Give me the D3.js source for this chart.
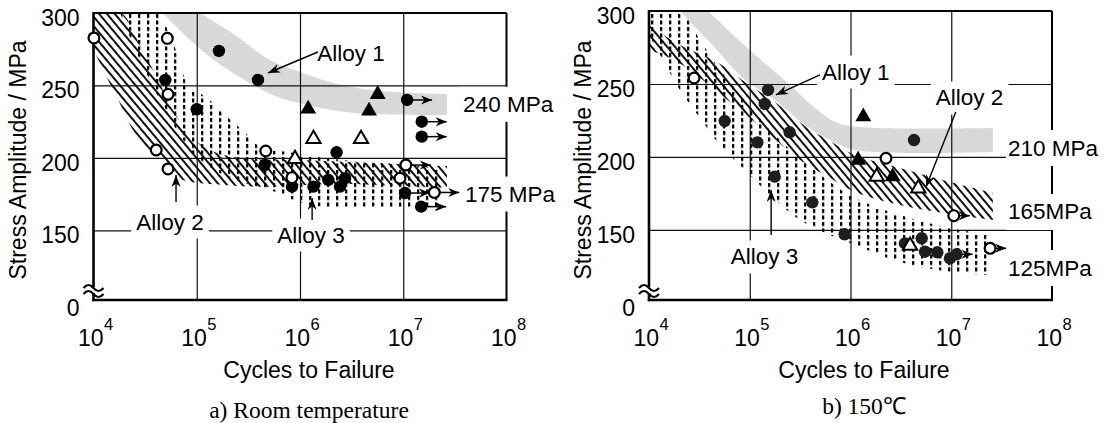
<!DOCTYPE html>
<html><head><meta charset="utf-8">
<script src="https://cdn.jsdelivr.net/npm/d3@7"></script>
<style>body{margin:0;background:#fff}svg{display:block}</style>
</head><body><svg id="c" width="1108" height="423"></svg>
<script>
// ---------- tick data ----------
const decadeTicks = [1e4, 1e5, 1e6, 1e7, 1e8];
const decadeExponents = ["4", "5", "6", "7", "8"];
const gridCycles = [1e5, 1e6, 1e7];
const stressTicks = [150, 200, 250, 300];
const gridStress = [150, 200, 250];
const brokenAxisLabel = "0";

// ---------- a) Room temperature ----------
const rtOpenCircle = [[1.01e4,282.8],[5.19e4,282.5],[5.27e4,243.9],[4.05e4,205.5],[5.27e4,192.4],[4.66e5,204.8],[8.36e5,186.4],[9.3e6,186.0]];
const rtOpenCircleRunout = [[1.06e7,195.1],[2.0e7,176.2]];
const rtFilledCircle = [[4.96e4,253.8],[1.0e5,233.6],[1.64e5,273.8],[3.92e5,253.8],[4.55e5,195.1],[8.36e5,180.2],[1.35e6,180.2],[1.88e6,184.8],[2.44e6,180.2],[2.73e6,186.0],[2.26e6,203.9]];
const rtFilledCircleRunout = [[1.09e7,240],[1.51e7,225.0],[1.51e7,214.7],[1.04e7,175.8],[1.49e7,166.4]];
const rtFilledTriangle = [[1.20e6,233.8],[5.66e6,243.9],[4.66e6,232.4]];
const rtOpenTriangle = [[8.95e5,199.3],[1.35e6,213.1],[3.90e6,213.1]];

const rtAlloy1Upper = [[1.07e5,300],[2.35e5,284.8],[5.12e5,267.6],[1.0e6,259.3],[1.95e6,252.4],[4.76e6,246.9],[2.65e7,244.1]];
const rtAlloy1Lower = [[4.71e4,300],[8.6e4,281.4],[1.61e5,265.5],[3.13e5,252.4],[5.73e5,242.7],[1.07e6,237.2],[2.28e6,232.4],[4.76e6,230.3],[2.65e7,229.6]];
const rtAlloy2Upper = [[1e4,300],[1.85e4,300],[2.82e4,277.9],[4.21e4,253.8],[5.89e4,233.1],[8.6e4,215.8],[1.34e5,205.5],[2.62e5,200.0],[1.0e6,198.6],[2.65e7,194.4]];
const rtAlloy2Lower = [[1e4,274.5],[1.73e4,240.0],[2.70e4,213.8],[4.51e4,198.6],[6.58e4,186.2],[1.88e5,181.3],[4.58e5,180.0],[1.95e6,182.0],[2.65e7,179.3]];
const rtAlloy3Upper = [[4.41e4,300],[5.51e4,284.8],[6.89e4,266.2],[8.23e4,250.0],[1.23e5,242.0],[1.88e5,229.6],[3.35e5,213.8],[4.19e5,206.9],[7.65e5,204.1],[1.75e6,200.0],[2.27e7,193.1]];
const rtAlloy3Lower = [[1.81e4,300],[2.82e4,267.6],[4.41e4,240.0],[6.89e4,215.8],[1.07e5,198.6],[2.10e5,186.2],[5.12e5,177.9],[1.25e6,167.5],[9.3e6,165.5],[2.27e7,164.1]];

const rtAlloyNotes = [
  {text:"Alloy 1", at:[3.12e6,272.4], from:[1.49e6,273.1], to:[4.9e5,258.6]},
  {text:"Alloy 2", at:[5.51e4,155.8], from:[6.3e4,169.6], to:[6.3e4,188.2]},
  {text:"Alloy 3", at:[1.28e6,146.8], from:[1.31e6,157.2], to:[1.31e6,172.4]}
];
const rtLimitLabels = [{text:"240 MPa", at:[3.8e7,237]}, {text:"175 MPa", at:[3.97e7,175.1]}];

// ---------- b) 150 C ----------
const htOpenCircle = [[2.8e4,254.1],[2.25e6,199.1]];
const htOpenCircleRunout = [[1.06e7,159.8],[2.43e7,137.4]];
const htFilledCircle = [[1.52e5,245.9],[1.41e5,236.3],[5.64e4,224.6],[2.49e5,216.9],[1.19e5,210.0],[1.77e5,186.5],[4.18e5,168.9],[8.75e5,147.0],[4.27e6,211.6],[3.47e6,140.8],[5.09e6,144.3],[5.49e6,135.1],[7.27e6,134.7],[9.72e6,130.6]];
const htFilledCircleRunout = [[1.13e7,133.3]];
const htFilledTriangle = [[1.34e6,227.6],[1.19e6,197.9],[2.62e6,186.5]];
const htOpenTriangle = [[1.82e6,186.5],[4.71e6,178.5],[3.90e6,139.2]];

const htAlloy1Upper = [[3.85e4,300],[1.0e5,273.3],[2.51e5,249.3],[4.45e5,233.5],[7.02e5,224.0],[1.24e6,220.5],[2.59e7,219.8]];
const htAlloy1Lower = [[2.03e4,300],[4.73e4,273.3],[8.97e4,252.7],[1.78e5,239.0],[3.53e5,221.9],[6.27e5,211.6],[1.11e6,204.8],[2.59e7,203.4]];
const htAlloy2Upper = [[1e4,290.4],[2.03e4,276.7],[4.73e4,265.1],[8.97e4,251.4],[1.78e5,237.7],[3.53e5,221.2],[6.27e5,210.9],[1.11e6,201.3],[3.10e6,192.4],[9.72e6,182.8],[2.59e7,175.3]];
const htAlloy2Lower = [[1e4,273.3],[1.62e4,267.8],[2.55e4,259.6],[4.52e4,245.9],[8.57e4,230.8],[1.59e5,215.0],[3.16e5,197.9],[6.27e5,185.6],[1.11e6,176.0],[3.10e6,167.1],[9.72e6,160.9],[2.59e7,156.8]];
const htAlloy3Upper = [[1e4,300],[2.03e4,300],[3.21e4,280.1],[5.07e4,259.6],[8.97e4,239.0],[1.59e5,218.5],[3.16e5,199.3],[6.27e5,182.8],[1.11e6,171.9],[3.10e6,160.2],[9.72e6,151.3],[2.43e7,146.5]];
const htAlloy3Lower = [[1e4,283.6],[1.29e4,269.9],[2.03e4,245.9],[3.21e4,226.7],[5.07e4,208.2],[8.97e4,191.1],[1.59e5,173.9],[3.16e5,156.8],[6.27e5,146.5],[1.11e6,139.7],[3.10e6,128.0],[9.72e6,121.2],[2.43e7,119.1]];

const htAlloyNotes = [
  {text:"Alloy 1", at:[1.13e6,258.2], from:[4.98e5,256.2], to:[1.82e5,242.5]},
  {text:"Alloy 2", at:[1.52e7,240.4], from:[1.11e7,230.8], to:[5.61e6,179.4]},
  {text:"Alloy 3", at:[1.40e5,131.5], from:[1.63e5,146.5], to:[1.63e5,177.4]}
];
const htLimitLabels = [{text:"210 MPa", at:[3.66e7,206.1]}, {text:"165MPa", at:[3.66e7,162.3]}, {text:"125MPa", at:[3.66e7,123.9]}];

const xTitle = "Cycles to Failure";
const yTitle = "Stress Amplitude / MPa";
const captions = ["a) Room temperature", "b) 150\u2103"];

// ---------- drawing ----------
const SANS = "'Liberation Sans', Arial, Helvetica, sans-serif";
const SERIF = "'Liberation Serif', 'Times New Roman', serif";
const svg = d3.select("#c");
svg.append("rect").attr("width",1108).attr("height",423).attr("fill","#fff");
const defs = svg.append("defs");
const hp = defs.append("pattern").attr("id","hatch").attr("patternUnits","userSpaceOnUse")
  .attr("width",6).attr("height",6).attr("patternTransform","rotate(-40)");
hp.append("line").attr("x1",1).attr("y1",0).attr("x2",1).attr("y2",6).attr("stroke","#111").attr("stroke-width",2);
const dp = defs.append("pattern").attr("id","dots").attr("patternUnits","userSpaceOnUse")
  .attr("width",9).attr("height",6.5);
dp.append("rect").attr("x",3).attr("y",1).attr("width",2.3).attr("height",4).attr("fill","#000");

function arrowHead(g, tx, ty, angle, len=10, half=3.6){
  g.append("path")
    .attr("d",`M0,0 L${-len},${-half} L${-len*0.7},0 L${-len},${half} Z`)
    .attr("transform",`translate(${tx},${ty}) rotate(${angle})`)
    .attr("fill","#000");
}

function drawPanel(cfg){
  const x = d3.scaleLog().domain([1e4,1e8]).range([cfg.left,cfg.right]);
  const y = d3.scaleLinear().domain([102,300]).range([cfg.bottom,cfg.top]);
  const g = svg.append("g");
  const cid = "clip"+cfg.id;
  defs.append("clipPath").attr("id",cid).append("rect")
    .attr("x",cfg.left).attr("y",cfg.top).attr("width",cfg.right-cfg.left).attr("height",cfg.bottom-cfg.top);

  // bands
  const line = d3.line().x(d=>x(d[0])).y(d=>y(d[1])).curve(d3.curveCatmullRom.alpha(0.5));
  const band = (up,lo)=> line(up) + line(lo.slice().reverse()).replace(/^M/,"L") + "Z";
  const bands = g.append("g").attr("clip-path",`url(#${cid})`);
  bands.append("path").attr("d",band(cfg.a1u,cfg.a1l)).attr("fill","#d8d8d8");
  bands.append("path").attr("d",band(cfg.a2u,cfg.a2l)).attr("fill","url(#hatch)");
  bands.append("path").attr("d",band(cfg.a3u,cfg.a3l)).attr("fill","url(#dots)");

  // grid via axes
  const gx = g.append("g").attr("transform",`translate(0,${cfg.bottom})`)
    .call(d3.axisBottom(x).tickValues(gridCycles).tickSize(-(cfg.bottom-cfg.top)).tickFormat(""));
  const gy = g.append("g").attr("transform",`translate(${cfg.left},0)`)
    .call(d3.axisLeft(y).tickValues(gridStress).tickSize(-(cfg.right-cfg.left)).tickFormat(""));
  [gx,gy].forEach(a=>{ a.select(".domain").remove(); a.selectAll("line").attr("stroke","#111").attr("stroke-width",1.2); });

  // frame
  const fr = g.append("g").attr("stroke","#000").attr("fill","none");
  fr.append("line").attr("x1",cfg.left).attr("x2",cfg.right).attr("y1",cfg.top).attr("y2",cfg.top).attr("stroke-width",2);
  fr.append("line").attr("x1",cfg.right).attr("x2",cfg.right).attr("y1",cfg.top).attr("y2",cfg.bottom).attr("stroke-width",2);
  fr.append("line").attr("x1",cfg.left).attr("x2",cfg.left).attr("y1",cfg.top-1).attr("y2",cfg.bottom+1.2).attr("stroke-width",2.6);
  fr.append("line").attr("x1",cfg.left-1.2).attr("x2",cfg.right+1).attr("y1",cfg.bottom).attr("y2",cfg.bottom).attr("stroke-width",2.6);

  // axis break symbol
  const by = cfg.bottom - 10;
  g.append("rect").attr("x",cfg.left-3).attr("y",by-3).attr("width",6).attr("height",6).attr("fill","#fff");
  [-3,3].forEach(o=>{
    g.append("path").attr("d",`M${cfg.left-10},${by+o+1} q5,-6 10,0 t10,0`)
      .attr("fill","none").attr("stroke","#000").attr("stroke-width",2);
  });

  // markers
  const R = 6.2;
  const pts = g.append("g");
  const runout = (arr)=> arr.forEach(d=>{
    const px=x(d[0]), py=y(d[1]);
    pts.append("line").attr("x1",px).attr("x2",px+cfg.runLen).attr("y1",py).attr("y2",py).attr("stroke","#000").attr("stroke-width",1.5);
    arrowHead(pts, px+cfg.runLen, py, 0, 11, 4.5);
  });
  runout(cfg.fcr); runout(cfg.ocr);
  pts.selectAll(null).data(cfg.fc.concat(cfg.fcr)).join("circle")
    .attr("cx",d=>x(d[0])).attr("cy",d=>y(d[1])).attr("r",R).attr("fill",cfg.dotFill);
  pts.selectAll(null).data(cfg.oc.concat(cfg.ocr)).join("circle")
    .attr("cx",d=>x(d[0])).attr("cy",d=>y(d[1])).attr("r",R-0.8).attr("fill","#fff").attr("stroke","#000").attr("stroke-width",2.2);
  const tri = d3.symbol().type(d3.symbolTriangle).size(110);
  pts.selectAll(null).data(cfg.ft).join("path").attr("d",tri)
    .attr("transform",d=>`translate(${x(d[0])},${y(d[1])})`).attr("fill","#000");
  const tri2 = d3.symbol().type(d3.symbolTriangle).size(88);
  pts.selectAll(null).data(cfg.ot).join("path").attr("d",tri2)
    .attr("transform",d=>`translate(${x(d[0])},${y(d[1])})`).attr("fill","#fff").attr("stroke","#000").attr("stroke-width",2);

  // text with white background
  function boxedText(tx, ty, str, anchor, padX, padY, fixedH){
    const t = g.append("text").attr("x",tx).attr("y",ty).attr("text-anchor",anchor)
      .attr("dominant-baseline","central").attr("font-family",SANS).attr("font-size",22.5).attr("fill","#000").text(str);
    const b = t.node().getBBox();
    const h = fixedH || (b.height + 2*padY);
    g.insert("rect", () => t.node()).attr("x",b.x-padX).attr("y",ty-h/2).attr("width",b.width+2*padX).attr("height",h).attr("fill","#fff");
  }
  cfg.notes.forEach(n=>{
    boxedText(x(n.at[0]), y(n.at[1]), n.text, "middle", 5, 4);
    const x1=x(n.from[0]), y1=y(n.from[1]), x2=x(n.to[0]), y2=y(n.to[1]);
    g.append("line").attr("x1",x1).attr("y1",y1).attr("x2",x2).attr("y2",y2).attr("stroke","#000").attr("stroke-width",1.4);
    arrowHead(g, x2, y2, Math.atan2(y2-y1,x2-x1)*180/Math.PI, 12, 4.5);
  });
  cfg.limits.forEach(n=>{
    boxedText(x(n.at[0]), y(n.at[1]), n.text, "start", 2, 0, cfg.limitH);
  });

  // tick labels
  const tl = g.append("g").attr("font-family",SANS).attr("fill","#000");
  tl.selectAll(null).data(stressTicks).join("text")
    .attr("x",cfg.left-14).attr("y",d=>y(d)+5).attr("text-anchor","end").attr("dominant-baseline","central")
    .attr("font-size",23).text(d=>d);
  tl.append("text").attr("x",cfg.left-14).attr("y",cfg.bottom+8).attr("text-anchor","end").attr("dominant-baseline","central")
    .attr("font-size",23).text(brokenAxisLabel);
  decadeTicks.forEach((v,i)=>{
    tl.append("text").attr("x",x(v)+10).attr("y",cfg.bottom+46).attr("text-anchor","end").attr("font-size",23).text("10");
    tl.append("text").attr("x",x(v)+10.5).attr("y",cfg.bottom+30).attr("text-anchor","start").attr("font-size",16.5).text(decadeExponents[i]);
  });
  tl.append("text").attr("x",cfg.xTitleX).attr("y",cfg.bottom+78).attr("text-anchor","middle").attr("font-size",23).text(xTitle);
  tl.append("text").attr("transform",`translate(${cfg.yTitleX},160) rotate(-90)`).attr("text-anchor","middle")
    .attr("dominant-baseline","central").attr("font-size",23).text(yTitle);
  svg.append("text").attr("x",cfg.xTitleX).attr("y",cfg.capY).attr("text-anchor","middle")
    .attr("font-family",SERIF).attr("font-size",23.5).attr("fill","#000").text(cfg.caption);
}

drawPanel({id:"a", left:93.5, right:506.5, top:13, bottom:300,
  a1u:rtAlloy1Upper, a1l:rtAlloy1Lower, a2u:rtAlloy2Upper, a2l:rtAlloy2Lower, a3u:rtAlloy3Upper, a3l:rtAlloy3Lower,
  oc:rtOpenCircle, ocr:rtOpenCircleRunout, fc:rtFilledCircle, fcr:rtFilledCircleRunout, ft:rtFilledTriangle, ot:rtOpenTriangle,
  notes:rtAlloyNotes, limits:rtLimitLabels, limitH:35, runLen:25, dotFill:"#000",
  xTitleX:309, yTitleX:18, capY:418, caption:captions[0]});
drawPanel({id:"b", left:649, right:1052, top:11, bottom:300,
  a1u:htAlloy1Upper, a1l:htAlloy1Lower, a2u:htAlloy2Upper, a2l:htAlloy2Lower, a3u:htAlloy3Upper, a3l:htAlloy3Lower,
  oc:htOpenCircle, ocr:htOpenCircleRunout, fc:htFilledCircle, fcr:htFilledCircleRunout, ft:htFilledTriangle, ot:htOpenTriangle,
  notes:htAlloyNotes, limits:htLimitLabels, limitH:36, runLen:16, dotFill:"#1e1e1e",
  xTitleX:864, yTitleX:583, capY:414, caption:captions[1]});
</script></body></html>
